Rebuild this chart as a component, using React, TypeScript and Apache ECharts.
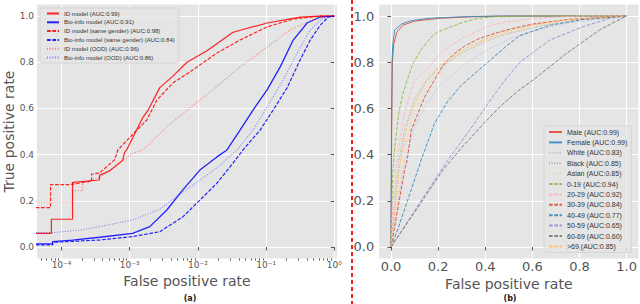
import React, { useEffect, useRef } from 'react';
import * as echarts from 'echarts';

type Pt = [number, number];

// ---------- Panel (a): log-x ROC curves ----------
const leftNames = [
  'ID model (AUC:0.99)',
  'Bio-info model (AUC:0.91)',
  'ID model (same gender) (AUC:0.98)',
  'Bio-info model (same gender) (AUC:0.84)',
  'ID model (OOD) (AUC:0.96)',
  'Bio-info model (OOD) (AUC:0.86)',
];
const idModel: Pt[] = [
  [1e-5, 0.059], [7.1e-5, 0.059], [7.1e-5, 0.12], [1.45e-4, 0.12], [1.45e-4, 0.28], [3.6e-4, 0.29],
  [3.6e-4, 0.31], [5.1e-4, 0.33], [7.9e-4, 0.376], [8.4e-4, 0.41], [9.0e-4, 0.42], [1.55e-3, 0.56],
  [1.84e-3, 0.59], [2.76e-3, 0.69], [4.3e-3, 0.74], [6.9e-3, 0.8], [0.0136, 0.85], [0.0327, 0.93],
  [0.1035, 0.97], [0.316, 0.995], [0.622, 1.0], [1, 1],
];
const bioModel: Pt[] = [
  [1e-5, 0.013], [7.4e-5, 0.013], [7.4e-5, 0.023], [1.45e-4, 0.03], [3.62e-4, 0.042], [1.1e-3, 0.059],
  [1.97e-3, 0.088], [3.5e-3, 0.16], [6.0e-3, 0.247], [0.0107, 0.333], [0.019, 0.39], [0.0267, 0.42],
  [0.0415, 0.506], [0.0644, 0.593], [0.1035, 0.68], [0.161, 0.78], [0.25, 0.896], [0.4, 0.97],
  [0.622, 0.996], [1, 1],
];
const idSame: Pt[] = [
  [1e-5, 0.17], [6.9e-5, 0.17], [6.9e-5, 0.27], [1.31e-4, 0.27], [2.76e-4, 0.285], [2.76e-4, 0.316],
  [3.62e-4, 0.32], [4.28e-4, 0.34], [6.0e-4, 0.377], [6.7e-4, 0.42], [1.27e-3, 0.506], [1.78e-3, 0.55],
  [2.5e-3, 0.636], [4.3e-3, 0.71], [8.4e-3, 0.766], [0.019, 0.84], [0.0415, 0.896], [0.1035, 0.953],
  [0.25, 0.987], [0.62, 1.0], [1, 1],
];
const bioSame: Pt[] = [
  [1e-5, 0.009], [7.4e-5, 0.009], [7.4e-5, 0.02], [3.62e-4, 0.03], [1.1e-3, 0.045], [2.76e-3, 0.066],
  [6.0e-3, 0.13], [0.0107, 0.203], [0.019, 0.276], [0.0327, 0.363], [0.0459, 0.42], [0.0817, 0.506],
  [0.127, 0.593], [0.204, 0.69], [0.316, 0.81], [0.444, 0.896], [0.622, 0.96], [0.816, 0.996], [1, 1],
];
const idOod: Pt[] = [
  [1e-5, 0.196], [1.45e-4, 0.196], [1.45e-4, 0.244], [2.04e-4, 0.244], [2.04e-4, 0.28], [3.62e-4, 0.3],
  [7.0e-4, 0.36], [1.1e-3, 0.405], [1.55e-3, 0.42], [3.5e-3, 0.52], [6.9e-3, 0.593], [0.0166, 0.68],
  [0.0415, 0.78], [0.1035, 0.866], [0.225, 0.94], [0.444, 0.98], [0.79, 1.0], [1, 1],
];
const bioOod: Pt[] = [
  [1e-5, 0.062], [7.4e-5, 0.062], [2.04e-4, 0.074], [3.62e-4, 0.088], [1.1e-3, 0.117], [2.76e-3, 0.163],
  [4.9e-3, 0.218], [0.0107, 0.29], [0.019, 0.342], [0.0327, 0.405], [0.0375, 0.42], [0.0644, 0.506],
  [0.1035, 0.606], [0.178, 0.723], [0.286, 0.84], [0.444, 0.94], [0.667, 0.99], [1, 1],
];
const leftTickExps = [-4, -3, -2, -1, 0];
const leftTickLabels = ['10⁻⁴', '10⁻³', '10⁻²', '10⁻¹', '10⁰'];

// ---------- Panel (b): linear ROC curves ----------
const rightNames = [
  'Male (AUC:0.99)', 'Female (AUC:0.99)', 'White (AUC:0.83)', 'Black (AUC:0.85)', 'Asian (AUC:0.85)',
  '0-19 (AUC:0.94)', '20-29 (AUC:0.92)', '30-39 (AUC:0.84)', '40-49 (AUC:0.77)', '50-59 (AUC:0.65)',
  '60-69 (AUC:0.60)', '>69 (AUC:0.85)',
];
const male: Pt[] = [[0, 0], [0.003, 0.5], [0.006, 0.8], [0.012, 0.88], [0.025, 0.93], [0.05, 0.96], [0.1, 0.978], [0.2, 0.99], [0.35, 0.997], [0.5, 1], [1, 1]];
const female: Pt[] = [[0, 0], [0.002, 0.5], [0.004, 0.8], [0.008, 0.88], [0.016, 0.94], [0.044, 0.965], [0.086, 0.98], [0.157, 0.99], [0.3, 0.997], [0.45, 1], [1, 1]];
const white: Pt[] = [[0, 0], [0.03, 0.2], [0.06, 0.38], [0.1, 0.52], [0.15, 0.62], [0.2, 0.69], [0.3, 0.78], [0.4, 0.85], [0.5, 0.9], [0.6, 0.935], [0.75, 0.97], [1, 1]];
const black: Pt[] = [[0, 0], [0.015, 0.2], [0.035, 0.38], [0.06, 0.52], [0.1, 0.64], [0.15, 0.72], [0.2, 0.77], [0.3, 0.84], [0.4, 0.89], [0.5, 0.925], [0.65, 0.96], [0.8, 0.985], [1, 1]];
const asian: Pt[] = [[0, 0], [0.025, 0.2], [0.05, 0.38], [0.08, 0.52], [0.12, 0.63], [0.17, 0.72], [0.22, 0.78], [0.3, 0.84], [0.4, 0.89], [0.5, 0.925], [0.65, 0.96], [0.8, 0.985], [1, 1]];
const age0: Pt[] = [[0, 0], [0.004, 0.2], [0.008, 0.333], [0.015, 0.42], [0.033, 0.58], [0.05, 0.66], [0.068, 0.72], [0.093, 0.795], [0.128, 0.853], [0.171, 0.91], [0.199, 0.932], [0.256, 0.954], [0.312, 0.975], [0.369, 0.99], [0.44, 0.997], [0.6, 1], [1, 1]];
const age20: Pt[] = [[0, 0], [0.008, 0.2], [0.021, 0.333], [0.033, 0.434], [0.058, 0.58], [0.085, 0.68], [0.1, 0.72], [0.157, 0.78], [0.227, 0.853], [0.312, 0.91], [0.411, 0.954], [0.462, 0.97], [0.6, 0.99], [0.8, 1], [1, 1]];
const age30: Pt[] = [[0, 0], [0.035, 0.2], [0.058, 0.333], [0.069, 0.377], [0.086, 0.506], [0.143, 0.65], [0.185, 0.723], [0.2, 0.75], [0.227, 0.795], [0.27, 0.838], [0.312, 0.87], [0.369, 0.9], [0.44, 0.925], [0.51, 0.945], [0.6, 0.965], [0.75, 0.985], [1, 1]];
const age40: Pt[] = [[0, 0], [0.03, 0.08], [0.07, 0.2], [0.114, 0.333], [0.128, 0.377], [0.185, 0.535], [0.24, 0.63], [0.298, 0.7], [0.411, 0.8], [0.49, 0.87], [0.547, 0.915], [0.674, 0.96], [0.815, 0.985], [1, 1]];
const age50: Pt[] = [[0, 0], [0.213, 0.333], [0.242, 0.377], [0.33, 0.5], [0.41, 0.62], [0.482, 0.72], [0.547, 0.8], [0.674, 0.896], [0.815, 0.954], [0.928, 0.99], [1, 1]];
const age60: Pt[] = [[0, 0], [0.1, 0.15], [0.22, 0.333], [0.3, 0.43], [0.38, 0.52], [0.462, 0.607], [0.538, 0.675], [0.603, 0.723], [0.744, 0.838], [0.886, 0.94], [0.95, 0.975], [1, 1]];
const age69: Pt[] = [[0, 0], [0.02, 0.2], [0.04, 0.377], [0.07, 0.53], [0.1, 0.62], [0.15, 0.72], [0.2, 0.78], [0.3, 0.85], [0.4, 0.9], [0.5, 0.935], [0.6, 0.96], [0.75, 0.985], [1, 1]];
const rightTicks = [0, 0.2, 0.4, 0.6, 0.8, 1.0];
const yTicks = [0, 0.2, 0.4, 0.6, 0.8, 1.0];

const DASH = [3.7, 1.6];
const DOT = [1, 1.65];
const TXT = '#555555';
const FONT = 'DejaVu Sans';

function line(name: string, data: number[][], color: string, type: any, width: number, opacity: number, xi: number, yi: number) {
  return {
    type: 'line', name, data, xAxisIndex: xi, yAxisIndex: yi, symbol: 'none', showSymbol: false,
    silent: true, clip: true,
    lineStyle: { color, type, width, opacity, cap: 'butt' },
    itemStyle: { color, opacity },
  };
}

export default function App() {
  const ref = useRef<HTMLDivElement>(null);
  useEffect(() => {
    const chart = echarts.init(ref.current!, null, { renderer: 'svg' });
    const lg = (d: Pt[]) => d.map(([f, t]) => [Math.log10(f), t]);
    const minorTicks: number[] = [];
    for (let e = -5; e <= 0; e++) for (let k = 2; k <= 9; k++) minorTicks.push(Math.log10(k * Math.pow(10, e)));

    const yAxisBase = (gi: number, size: number, margin: number) => ({
      type: 'value', gridIndex: gi, min: -0.05, max: 1.05,
      axisLine: { show: false },
      axisTick: { show: true, customValues: yTicks, length: 3.5, lineStyle: { color: TXT } },
      axisLabel: { customValues: yTicks, color: TXT, fontSize: size, fontFamily: FONT, margin, formatter: (v: number) => v.toFixed(1) },
      splitLine: { show: true, lineStyle: { color: '#ffffff', width: 1 } },
    });

    const legendCommon = {
      orient: 'vertical', selectedMode: false,
      backgroundColor: 'rgba(229,229,229,0.8)', borderColor: '#d4d4d4', borderWidth: 1, borderRadius: 2,
      itemStyle: { opacity: 0, borderWidth: 0 },
    };

    const option: any = {
      animation: false,
      backgroundColor: '#ffffff',
      grid: [
        { left: 37, top: 4.5, width: 300, height: 254, show: true, backgroundColor: '#E5E5E5', borderWidth: 0 },
        { left: 379.2, top: 4.5, width: 259.6, height: 254, show: true, backgroundColor: '#E5E5E5', borderWidth: 0 },
      ],
      xAxis: [
        {
          type: 'value', gridIndex: 0, min: -4.36, max: 0.04, position: 'bottom',
          name: 'False positive rate', nameLocation: 'middle', nameGap: 6,
          nameTextStyle: { color: TXT, fontSize: 14, fontFamily: FONT },
          axisLine: { show: false },
          axisTick: { show: true, customValues: leftTickExps, length: 3.5, lineStyle: { color: TXT } },
          axisLabel: {
            customValues: leftTickExps, color: TXT, fontSize: 9, fontFamily: FONT, margin: 2,
            formatter: (v: number) => leftTickLabels[leftTickExps.indexOf(Math.round(v))] ?? '',
          },
          splitLine: { show: true, lineStyle: { color: '#ffffff', width: 1 } },
        },
        {
          type: 'value', gridIndex: 0, min: -4.36, max: 0.04, position: 'bottom',
          axisLine: { show: false },
          axisTick: { show: true, customValues: minorTicks, length: 2, lineStyle: { color: TXT } },
          axisLabel: { show: false },
          splitLine: { show: false },
        },
        {
          type: 'value', gridIndex: 1, min: -0.05, max: 1.05,
          name: 'False positive rate', nameLocation: 'middle', nameGap: 15,
          nameTextStyle: { color: TXT, fontSize: 14, fontFamily: FONT },
          axisLine: { show: false },
          axisTick: { show: true, customValues: rightTicks, length: 3.5, lineStyle: { color: TXT } },
          axisLabel: { customValues: rightTicks, color: TXT, fontSize: 13, fontFamily: FONT, margin: 1, formatter: (v: number) => v.toFixed(1) },
          splitLine: { show: true, lineStyle: { color: '#ffffff', width: 1 } },
        },
      ],
      yAxis: [
        {
          ...yAxisBase(0, 9, 3),
          name: 'True positive rate', nameLocation: 'middle', nameGap: 21,
          nameTextStyle: { color: TXT, fontSize: 14, fontFamily: FONT },
        },
        yAxisBase(1, 13, 5),
      ],
      legend: [
        {
          ...legendCommon,
          data: leftNames, left: 40, top: 8, padding: [2, 4, 2, 6],
          itemWidth: 12, itemHeight: 7, itemGap: 1.8,
          textStyle: { fontSize: 6, fontFamily: 'Liberation Sans', color: '#333', lineHeight: 7 },
        },
        {
          ...legendCommon,
          data: rightNames, left: 544, top: 126, padding: [2, 4, 2, 4],
          itemWidth: 13, itemHeight: 8, itemGap: 2.4,
          textStyle: { fontSize: 7, fontFamily: 'Liberation Sans', color: '#333', lineHeight: 8 },
        },
      ],
      series: [
        line(leftNames[0], lg(idModel), '#ff0000', 'solid', 1.2, 0.85, 0, 0),
        line(leftNames[1], lg(bioModel), '#0000ff', 'solid', 1.3, 0.85, 0, 0),
        line(leftNames[2], lg(idSame), '#ff0000', DASH, 1.2, 0.85, 0, 0),
        line(leftNames[3], lg(bioSame), '#0000ff', DASH, 1.2, 0.85, 0, 0),
        line(leftNames[4], lg(idOod), '#ff0000', DOT, 1.1, 0.45, 0, 0),
        line(leftNames[5], lg(bioOod), '#0000ff', DOT, 1.1, 0.45, 0, 0),
        line(rightNames[0], male, '#E24A33', 'solid', 1, 0.9, 2, 1),
        line(rightNames[1], female, '#348ABD', 'solid', 1, 0.9, 2, 1),
        line(rightNames[2], white, '#988ED5', DOT, 1, 0.55, 2, 1),
        line(rightNames[3], black, '#777777', DOT, 1, 0.55, 2, 1),
        line(rightNames[4], asian, '#FBC15E', DOT, 1, 0.55, 2, 1),
        line(rightNames[5], age0, '#8EBA42', DASH, 1, 0.9, 2, 1),
        line(rightNames[6], age20, '#FFB5B8', DASH, 1, 0.9, 2, 1),
        line(rightNames[7], age30, '#E24A33', DASH, 1, 0.9, 2, 1),
        line(rightNames[8], age40, '#348ABD', DASH, 1, 0.9, 2, 1),
        line(rightNames[9], age50, '#988ED5', DASH, 1, 0.9, 2, 1),
        line(rightNames[10], age60, '#777777', DASH, 1, 0.9, 2, 1),
        line(rightNames[11], age69, '#FBC15E', DASH, 1, 0.9, 2, 1),
      ],
      graphic: [
        { type: 'line', shape: { x1: 352, y1: 0, x2: 352, y2: 304 }, style: { stroke: '#ee2222', lineWidth: 2, lineDash: [4, 3] }, silent: true },
        { type: 'text', x: 190, y: 298, style: { text: '(a)', fontSize: 8, fontWeight: 'bold', fontFamily: FONT, fill: '#222', align: 'center', verticalAlign: 'middle' } },
        { type: 'text', x: 510, y: 298, style: { text: '(b)', fontSize: 8, fontWeight: 'bold', fontFamily: FONT, fill: '#222', align: 'center', verticalAlign: 'middle' } },
      ],
    };
    chart.setOption(option);
    return () => chart.dispose();
  }, []);
  return <div ref={ref} style={{ position: 'fixed', left: 0, top: 0, width: 640, height: 304 }} />;
}
